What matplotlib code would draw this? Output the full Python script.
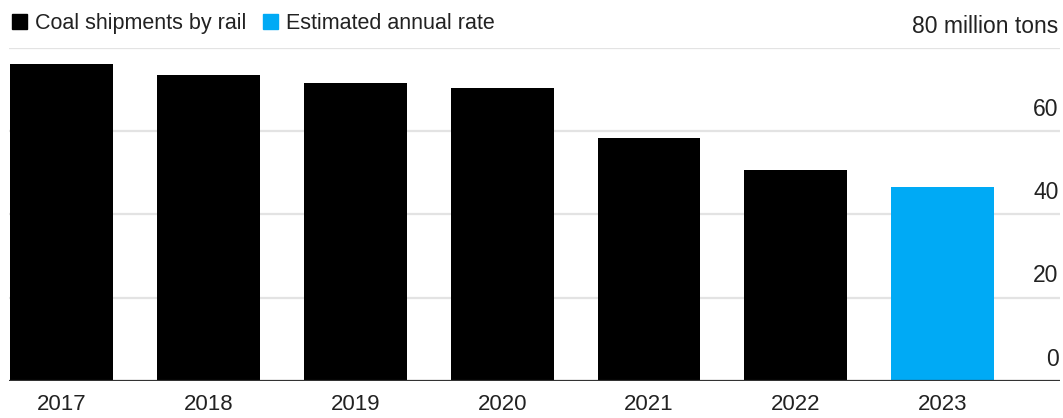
import matplotlib.pyplot as plt
from matplotlib.patches import Patch
from matplotlib.transforms import blended_transform_factory

plt.rcParams['font.family'] = ['Liberation Sans', 'DejaVu Sans']

# data
years = ['2017', '2018', '2019', '2020', '2021', '2022', '2023']
shipments = [76.1, 73.4, 71.5, 70.5, 58.4, 50.7, 46.7]
estimated = [False, False, False, False, False, False, True]
y_ticks = [0, 20, 40, 60, 80]
y_labels = ['0', '20', '40', '60', '80 million tons']
legend_labels = ['Coal shipments by rail', 'Estimated annual rate']

black = '#000000'
blue = '#00aaf5'
colors = [blue if e else black for e in estimated]

fig = plt.figure(figsize=(10.63, 4.18), dpi=100)
ax = fig.add_axes([9 / 1063, 37 / 418, (1060 - 9) / 1063, (381 - 48) / 418])

x = list(range(len(years)))
ax.bar(x, shipments, width=0.70, color=colors, zorder=3)

ax.set_xlim(-0.36, 6.8)
ax.set_ylim(0, 80)

# gridlines and baseline
for v in y_ticks[1:]:
    ax.axhline(v, color='#e3e3e3', lw=1.6, zorder=1)
ax.axhline(0, color='#333333', lw=1.6, zorder=4)

for s in ax.spines.values():
    s.set_visible(False)

ax.set_xticks(x)
ax.set_xticklabels(years, fontsize=16, color='#222222')
ax.tick_params(axis='x', length=0, pad=9)
ax.set_yticks([])

# y labels sit on top of the gridlines, right-aligned
trans = blended_transform_factory(ax.transAxes, ax.transData)
for v, lab in zip(y_ticks, y_labels):
    ax.annotate(lab, xy=(1.0, v), xycoords=trans, xytext=(-1, 11),
                textcoords='offset points', ha='right', va='baseline',
                fontsize=16.5, color='#222222')

handles = [Patch(color=black), Patch(color=blue)]
fig.legend(handles, legend_labels, loc='upper left', bbox_to_anchor=(12 / 1063, 1 - 13 / 418),
           ncol=2, frameon=False, fontsize=15.5, handlelength=0.7, handleheight=0.7,
           handletextpad=0.35, columnspacing=0.8, borderpad=0, borderaxespad=0,
           labelcolor='#222222')

fig.savefig('out.png', dpi=100)
plt.close()
